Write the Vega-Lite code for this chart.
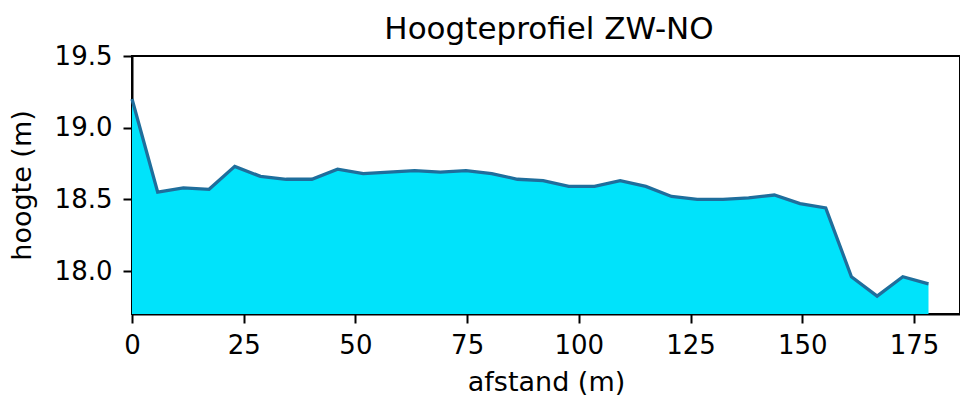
{
  "$schema": "https://vega.github.io/schema/vega-lite/v6.json",
  "autosize": "none",
  "padding": {"left": 132, "top": 56, "right": 0, "bottom": 86},
  "width": 828,
  "height": 258,
  "background": "white",
  "title": {"text": "Hoogteprofiel ZW-NO", "fontSize": 31, "fontWeight": "normal", "font": "DejaVu Sans", "color": "black", "offset": 16, "dx": 3, "dy": 19},
  "data": {"values": [
    {"afstand": 0, "hoogte": 19.2},
    {"afstand": 5.75, "hoogte": 18.55},
    {"afstand": 11.5, "hoogte": 18.58},
    {"afstand": 17.25, "hoogte": 18.57},
    {"afstand": 23, "hoogte": 18.73},
    {"afstand": 28.75, "hoogte": 18.66},
    {"afstand": 34.5, "hoogte": 18.64},
    {"afstand": 40.25, "hoogte": 18.64},
    {"afstand": 46, "hoogte": 18.71},
    {"afstand": 51.75, "hoogte": 18.68},
    {"afstand": 57.5, "hoogte": 18.69},
    {"afstand": 63.25, "hoogte": 18.7},
    {"afstand": 69, "hoogte": 18.69},
    {"afstand": 74.75, "hoogte": 18.7},
    {"afstand": 80.5, "hoogte": 18.68},
    {"afstand": 86.25, "hoogte": 18.64},
    {"afstand": 92, "hoogte": 18.63},
    {"afstand": 97.75, "hoogte": 18.59},
    {"afstand": 103.5, "hoogte": 18.59},
    {"afstand": 109.25, "hoogte": 18.63},
    {"afstand": 115, "hoogte": 18.59},
    {"afstand": 120.75, "hoogte": 18.52},
    {"afstand": 126.5, "hoogte": 18.5},
    {"afstand": 132.25, "hoogte": 18.5},
    {"afstand": 138, "hoogte": 18.51},
    {"afstand": 143.75, "hoogte": 18.53},
    {"afstand": 149.5, "hoogte": 18.47},
    {"afstand": 155.25, "hoogte": 18.44},
    {"afstand": 161, "hoogte": 17.96},
    {"afstand": 166.75, "hoogte": 17.825},
    {"afstand": 172.5, "hoogte": 17.96},
    {"afstand": 178.25, "hoogte": 17.91}
  ]},
  "encoding": {
    "x": {"field": "afstand", "type": "quantitative", "scale": {"domain": [0, 185.3], "nice": false, "zero": false},
      "axis": {"title": "afstand (m)", "values": [0, 25, 50, 75, 100, 125, 150, 175], "grid": false}},
    "y": {"field": "hoogte", "type": "quantitative", "scale": {"domain": [17.7, 19.5], "nice": false, "zero": false},
      "axis": {"title": "hoogte (m)", "values": [18.0, 18.5, 19.0, 19.5], "format": ".1f", "grid": false}}
  },
  "layer": [
    {"mark": {"type": "area", "color": "#00e3fb", "opacity": 1}, "encoding": {"y2": {"datum": 17.7}}},
    {"mark": {"type": "line", "color": "#1f6e9c", "strokeWidth": 3.3, "strokeJoin": "miter"}}
  ],
  "config": {
    "font": "DejaVu Sans",
    "view": {"stroke": "black", "strokeWidth": 2},
    "axis": {
      "domainColor": "black", "domainWidth": 2,
      "tickColor": "black", "tickWidth": 2, "tickSize": 9,
      "labelFont": "DejaVu Sans", "labelFontSize": 26, "labelColor": "black", "labelFlush": false, "labelOverlap": false,
      "titleFont": "DejaVu Sans", "titleFontSize": 27, "titleFontWeight": "normal", "titleColor": "black"
    },
    "axisX": {"labelPadding": 9, "titlePadding": 11},
    "axisY": {"labelPadding": 11, "titlePadding": 18}
  }
}
